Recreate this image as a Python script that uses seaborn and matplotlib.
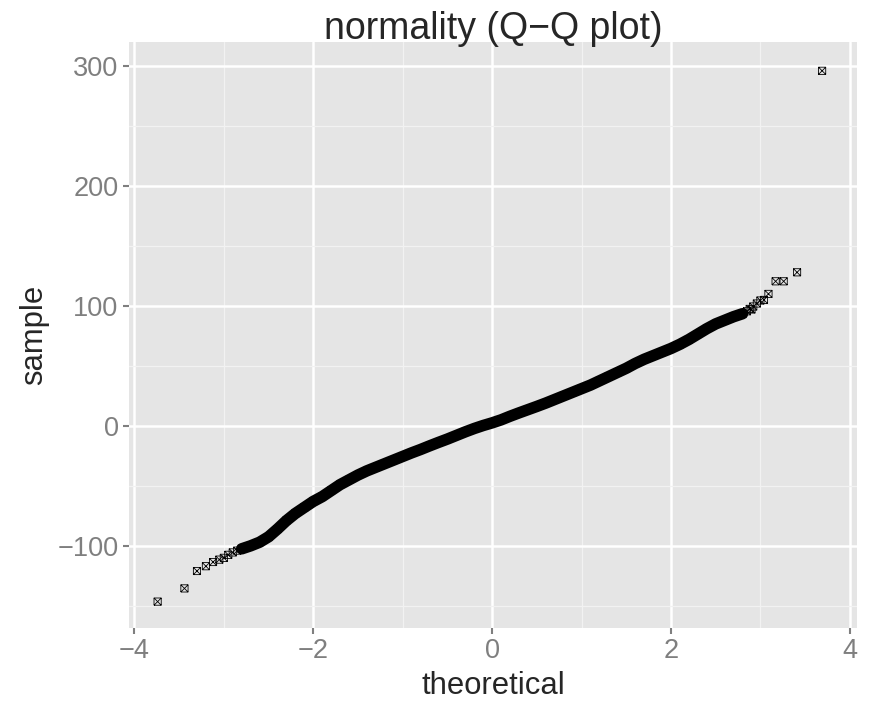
import numpy as np
import pandas as pd
import matplotlib
matplotlib.use("Agg")
import matplotlib.pyplot as plt
from matplotlib.path import Path
from matplotlib.markers import MarkerStyle
from matplotlib.ticker import AutoMinorLocator
import seaborn as sns

# dense central band of the Q-Q plot, every 0.1
band_theoretical = [-2.8, -2.7, -2.6, -2.5, -2.4, -2.3, -2.2, -2.1, -2.0,
                    -1.9, -1.8, -1.7, -1.6, -1.5, -1.4, -1.3, -1.2, -1.1, -1.0,
                    -0.9, -0.8, -0.7, -0.6, -0.5, -0.4, -0.3, -0.2, -0.1, 0.0,
                    0.1, 0.2, 0.3, 0.4, 0.5, 0.6, 0.7, 0.8, 0.9, 1.0,
                    1.1, 1.2, 1.3, 1.4, 1.5, 1.6, 1.7, 1.8, 1.9, 2.0,
                    2.1, 2.2, 2.3, 2.4, 2.5, 2.6, 2.7, 2.8]
band_sample = [-102.5, -100, -97, -92.5, -86, -79, -73, -68, -63,
               -59, -54, -49, -45, -41, -37.5, -34.5, -31.5, -28.5, -25.5,
               -22.5, -19.7, -16.7, -13.8, -11, -8, -5, -2.2, 0.3, 2.5,
               5, 8, 10.8, 13.5, 16.2, 19, 22, 25, 28, 31,
               34, 37.5, 41, 44.5, 48, 52, 55.5, 58.5, 61.5, 64.5,
               68, 72, 76.5, 81, 85, 88, 91, 93.5]

# sparser points where the band thins out, and the tails
tail_theoretical = [-3.74, -3.44, -3.30, -3.20, -3.12, -3.05, -3.00, -2.95,
                    -2.90, -2.85, -2.75, -2.65,
                    2.65, 2.75, 2.85, 2.90,
                    2.88, 2.92, 2.96, 3.00, 3.04, 3.09, 3.17, 3.26, 3.41, 3.69]
tail_sample = [-146.5, -135.5, -121, -117, -113.5, -111.5, -110, -107.5,
               -105.5, -104, -101.5, -98.5,
               89.5, 92, 95.5, 97,
               97.5, 99.5, 102, 104.5, 105, 110, 120.5, 120.5, 128, 296]

x_ticks = [-4, -2, 0, 2, 4]
y_ticks = [-100, 0, 100, 200, 300]

band = pd.DataFrame({"theoretical": band_theoretical, "sample": band_sample})
points = pd.concat([band, pd.DataFrame({"theoretical": tail_theoretical,
                                        "sample": tail_sample})])

sns.set_theme(style="darkgrid", rc={
    "axes.facecolor": "#E5E5E5",
    "grid.color": "white",
    "axes.edgecolor": "none",
})
plt.rcParams["font.family"] = ["Liberation Sans", "DejaVu Sans"]

fig = plt.figure(figsize=(8.71, 7.08), dpi=100)
ax = fig.add_axes([129 / 871, 1 - 628 / 708, (857 - 129) / 871, (628 - 42) / 708])

# square with a cross inside (ggplot shape 7)
verts = [(-1, -1), (1, -1), (1, 1), (-1, 1), (-1, -1),
         (-1, -1), (1, 1), (-1, 1), (1, -1)]
codes = [Path.MOVETO, Path.LINETO, Path.LINETO, Path.LINETO, Path.LINETO,
         Path.MOVETO, Path.LINETO, Path.MOVETO, Path.LINETO]
square_cross = MarkerStyle(Path(verts, codes), fillstyle="none")

# thousands of overlapping markers read as a solid band
sns.lineplot(data=band, x="theoretical", y="sample", color="black", lw=8.3,
             estimator=None, sort=False, solid_capstyle="round", ax=ax)
sns.scatterplot(data=points, x="theoretical", y="sample", marker=square_cross,
                s=27, color="black", linewidth=0.6, ax=ax, zorder=3)

ax.set_xlim(-4.06, 4.08)
ax.set_ylim(-168.5, 320)
ax.set_xticks(x_ticks)
ax.set_yticks(y_ticks)
ax.xaxis.set_minor_locator(AutoMinorLocator(2))
ax.yaxis.set_minor_locator(AutoMinorLocator(2))
ax.grid(which="major", color="white", linewidth=1.8)
ax.grid(which="minor", color="#F2F2F2", linewidth=0.9)
ax.set_axisbelow(True)

ax.tick_params(which="major", length=4.5, width=1.5, color="#7F7F7F",
               labelcolor="#7F7F7F", labelsize=19.5, pad=3,
               bottom=True, left=True)
ax.tick_params(which="minor", length=0)

ax.set_title("normality (Q\u2212Q plot)", fontsize=27, pad=2)
ax.set_xlabel("theoretical", fontsize=22.3, labelpad=5)
ax.set_ylabel("sample", fontsize=22.3, labelpad=6)
for s in ax.spines.values():
    s.set_visible(False)

fig.savefig("out.png", dpi=100)
